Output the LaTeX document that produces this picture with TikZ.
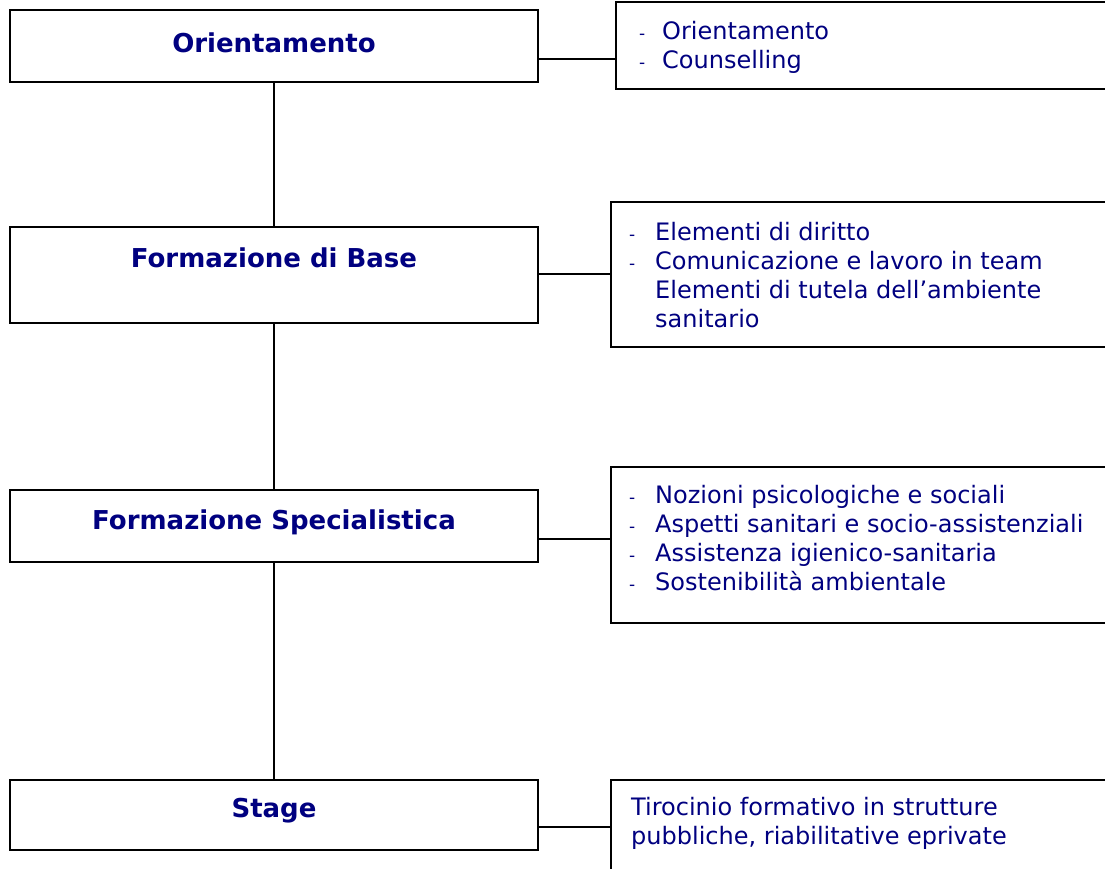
\documentclass[tikz,border=0pt]{standalone}
\usepackage{fontspec}
\setmainfont{DejaVu Sans}
\definecolor{navy}{RGB}{0,0,128}
\begin{document}
\begin{tikzpicture}[x=1pt,y=-1pt,
  lbox/.style={draw=black,line width=2pt,minimum width=528pt,inner sep=0pt,fill=white},
  rbox/.style={draw=black,line width=2pt,inner sep=0pt,fill=white},
  ttl/.style={text=navy,font=\fontsize{26}{30}\selectfont\bfseries,anchor=center},
  itm/.style={text=navy,font=\fontsize{24}{29}\selectfont,anchor=base west,inner sep=0pt},
  dsh/.style={text=navy,font=\fontsize{17}{20}\selectfont,anchor=base west,inner sep=0pt},
  conn/.style={line width=2pt}]
\useasboundingbox (0,0) rectangle (1105,868);
% left boxes
\node[lbox,minimum height=72pt] (b1) at (274,46) {};
\node[lbox,minimum height=96pt] (b2) at (274,275) {};
\node[lbox,minimum height=72pt] (b3) at (274,526) {};
\node[lbox,minimum height=70pt] (b4) at (274,815) {};
\node[ttl] (t1) at (274,43) {Orientamento};
\node[ttl] (t2) at (274,258) {Formazione di Base};
\node[ttl] (t3) at (274,522) {Formazione Specialistica};
\node[ttl] (t4) at (274,811) {Stage};
% right boxes
\node[rbox,minimum width=500pt,minimum height=87pt] (r1) at (866,45.5) {};
\node[rbox,minimum width=505pt,minimum height=145pt] (r2) at (863.5,274.5) {};
\node[rbox,minimum width=505pt,minimum height=156pt] (r3) at (863.5,545) {};
\node[rbox,minimum width=505pt,minimum height=100pt] (r4) at (863.5,830) {};
% vertical connectors
\draw[conn] (b1.south) -- (b2.north);
\draw[conn] (b2.south) -- (b3.north);
\draw[conn] (b3.south) -- (b4.north);
% horizontal connectors
\coordinate (c1) at (0,59);
\coordinate (c2) at (0,274);
\coordinate (c3) at (0,539);
\coordinate (c4) at (0,827);
\draw[conn] (b1.east |- c1) -- (r1.west |- c1);
\draw[conn] (b2.east |- c2) -- (r2.west |- c2);
\draw[conn] (b3.east |- c3) -- (r3.west |- c3);
\draw[conn] (b4.east |- c4) -- (r4.west |- c4);
% items box 1
\node[dsh] (d11) at (639,39) {-};
\node[itm] (i11) at (662,39) {Orientamento};
\node[dsh] (d12) at (639,68) {-};
\node[itm] (i12) at (662,68) {Counselling};
% items box 2
\node[dsh] (d21) at (629,240) {-};
\node[itm] (i21) at (655,240) {Elementi di diritto};
\node[dsh] (d22) at (629,269) {-};
\node[itm] (i22) at (655,269) {Comunicazione e lavoro in team};
\node[itm] (i23) at (655,298) {Elementi di tutela dell’ambiente};
\node[itm] (i24) at (655,327) {sanitario};
% items box 3
\node[dsh] (d31) at (629,503) {-};
\node[itm] (i31) at (655,503) {Nozioni psicologiche e sociali};
\node[dsh] (d32) at (629,532) {-};
\node[itm] (i32) at (655,532) {Aspetti sanitari e socio-assistenziali};
\node[dsh] (d33) at (629,561) {-};
\node[itm] (i33) at (655,561) {Assistenza igienico-sanitaria};
\node[dsh] (d34) at (629,590) {-};
\node[itm] (i34) at (655,590) {Sostenibilità ambientale};
% items box 4
\node[itm] (i41) at (631,815) {Tirocinio formativo in strutture};
\node[itm] (i42) at (631,844) {pubbliche, riabilitative eprivate};
\end{tikzpicture}
\end{document}
